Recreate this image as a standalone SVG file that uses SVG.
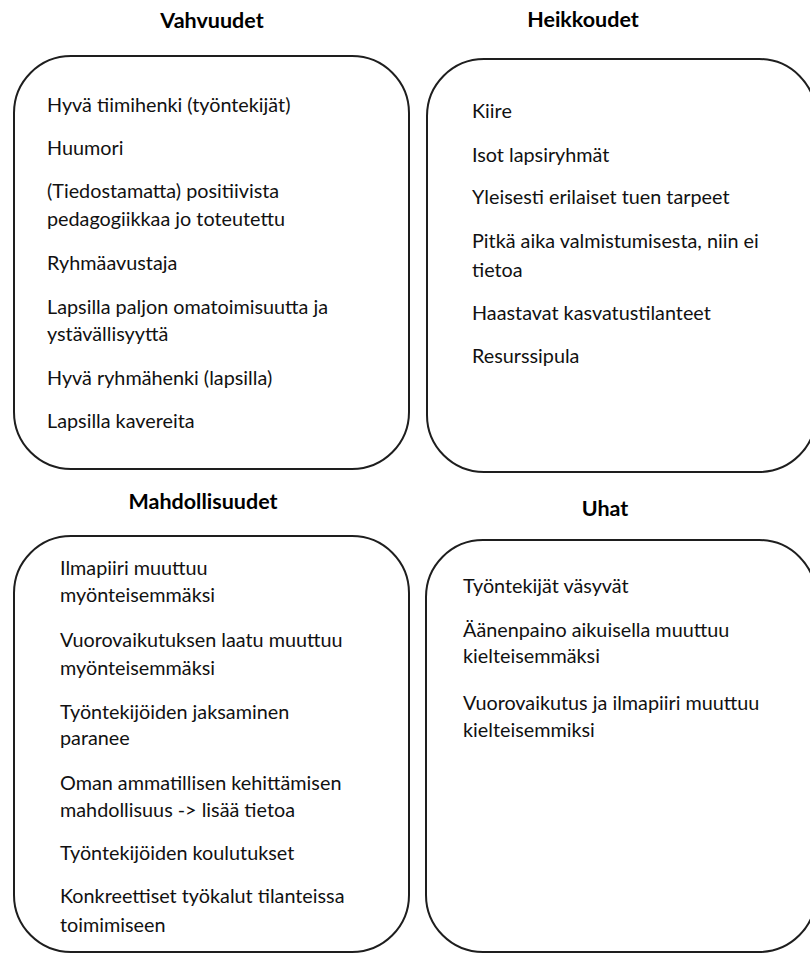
<svg xmlns="http://www.w3.org/2000/svg" width="810" height="953" viewBox="0 0 810 953">
<style>
.box{fill:#fff;stroke:#1e1e1e;stroke-width:2}
.t{font-family:Lato,"Open Sans","Liberation Sans",sans-serif;font-size:19.8px;fill:#111}
.h{font-family:Lato,"Open Sans","Liberation Sans",sans-serif;font-size:21.5px;font-weight:bold;fill:#000;text-anchor:middle}
</style>
<rect width="810" height="953" fill="#fff"/>
<g id="vahvuudet">
<text class="h" x="212" y="28">Vahvuudet</text>
<rect class="box" x="14" y="56" width="395" height="413" rx="57" ry="57"/>
<text class="t" x="47" y="112">Hyvä tiimihenki (työntekijät)</text>
<text class="t" x="47" y="155">Huumori</text>
<text class="t" x="47" y="198">(Tiedostamatta) positiivista</text>
<text class="t" x="47" y="226">pedagogiikkaa jo toteutettu</text>
<text class="t" x="47" y="270">Ryhmäavustaja</text>
<text class="t" x="47" y="314">Lapsilla paljon omatoimisuutta ja</text>
<text class="t" x="47" y="341">ystävällisyyttä</text>
<text class="t" x="47" y="385">Hyvä ryhmähenki (lapsilla)</text>
<text class="t" x="47" y="428">Lapsilla kavereita</text>
</g>
<g id="heikkoudet">
<text class="h" x="583" y="27">Heikkoudet</text>
<rect class="box" x="427" y="59" width="389" height="413" rx="57" ry="57"/>
<text class="t" x="472" y="118">Kiire</text>
<text class="t" x="472" y="162">Isot lapsiryhmät</text>
<text class="t" x="472" y="204">Yleisesti erilaiset tuen tarpeet</text>
<text class="t" x="472" y="248">Pitkä aika valmistumisesta, niin ei</text>
<text class="t" x="472" y="277">tietoa</text>
<text class="t" x="472" y="320">Haastavat kasvatustilanteet</text>
<text class="t" x="472" y="363">Resurssipula</text>
</g>
<g id="mahdollisuudet">
<text class="h" x="203" y="509">Mahdollisuudet</text>
<rect class="box" x="14" y="536" width="395" height="416" rx="57" ry="57"/>
<text class="t" x="60" y="575">Ilmapiiri muuttuu</text>
<text class="t" x="60" y="602">myönteisemmäksi</text>
<text class="t" x="60" y="647">Vuorovaikutuksen laatu muuttuu</text>
<text class="t" x="60" y="675">myönteisemmäksi</text>
<text class="t" x="60" y="719">Työntekijöiden jaksaminen</text>
<text class="t" x="60" y="745">paranee</text>
<text class="t" x="60" y="790">Oman ammatillisen kehittämisen</text>
<text class="t" x="60" y="817">mahdollisuus -&gt; lisää tietoa</text>
<text class="t" x="60" y="860">Työntekijöiden koulutukset</text>
<text class="t" x="60" y="903">Konkreettiset työkalut tilanteissa</text>
<text class="t" x="60" y="932">toimimiseen</text>
</g>
<g id="uhat">
<text class="h" x="605" y="516">Uhat</text>
<rect class="box" x="426" y="540" width="390" height="412" rx="57" ry="57"/>
<text class="t" x="463" y="593">Työntekijät väsyvät</text>
<text class="t" x="463" y="637">Äänenpaino aikuisella muuttuu</text>
<text class="t" x="463" y="663">kielteisemmäksi</text>
<text class="t" x="463" y="710">Vuorovaikutus ja ilmapiiri muuttuu</text>
<text class="t" x="463" y="737">kielteisemmiksi</text>
</g>
<g id="connectors"/>
</svg>
